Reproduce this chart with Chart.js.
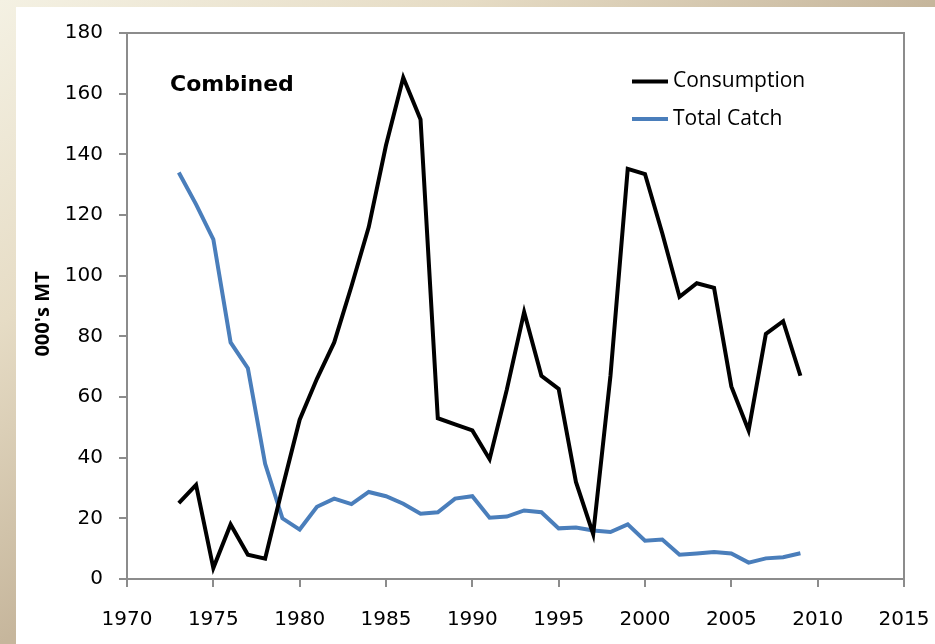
<!DOCTYPE html>
<html>
<head>
<meta charset="utf-8">
<script src="https://cdn.jsdelivr.net/npm/chart.js@4.4.0/dist/chart.umd.min.js"></script>
<style>
  html, body { margin: 0; padding: 0; }
  body {
    width: 935px; height: 644px; overflow: hidden; position: relative;
    background: linear-gradient(to bottom right, #f4f1e3 0%, #e6dcc5 25%, #c6b69c 50%, #c2b297 100%);
  }
  #wrap { position: absolute; left: 16px; top: 7px; width: 919px; height: 637px; background: #ffffff; }
</style>
</head>
<body>
<div id="wrap"><canvas id="c"></canvas></div>
<script>
const years = [1973,1974,1975,1976,1977,1978,1979,1980,1981,1982,1983,1984,1985,1986,1987,1988,1989,1990,1991,1992,1993,1994,1995,1996,1997,1998,1999,2000,2001,2002,2003,2004,2005,2006,2007,2008,2009];
const consumption = [25,31,3.6,18,8,6.7,30,52.5,66,78,96.5,116,143,165.3,151.5,53,51,49,39.5,62.5,88,67,62.7,32,14.8,67,135.2,133.5,114,93,97.5,96,63.5,49,80.8,85,67];
const totalCatch = [134,123.5,112,78,69.5,38,20,16.3,23.8,26.5,24.7,28.7,27.3,24.8,21.5,22,26.5,27.3,20.2,20.6,22.6,22,16.7,17,16,15.5,18,12.6,13,8,8.4,8.9,8.4,5.4,6.8,7.2,8.5];
const xTicks = [1970,1975,1980,1985,1990,1995,2000,2005,2010,2015];
const yTicks = [0,20,40,60,80,100,120,140,160,180];
const seriesLabels = ['Consumption','Total Catch'];
const seriesColors = ['#000000','#4a7ebb'];
const panelTitle = 'Combined';
const yTitle = "000's MT";

const axisGray = '#8c8c8c';

const decor = {
  id: 'decor',
  afterDraw(chart) {
    const ctx = chart.ctx;
    const a = chart.chartArea;
    ctx.save();
    ctx.strokeStyle = axisGray;
    ctx.lineWidth = 2;
    ctx.beginPath();
    ctx.moveTo(a.left, a.top);
    ctx.lineTo(a.right, a.top);
    ctx.lineTo(a.right, a.bottom);
    ctx.stroke();
    ctx.fillStyle = '#000';
    ctx.font = 'bold 22px "DejaVu Sans"';
    ctx.textBaseline = 'alphabetic';
    ctx.textAlign = 'left';
    ctx.fillText(panelTitle, 154, 84);
    const ds = chart.data.datasets;
    const rows = [74.5, 112];
    ctx.font = '21px "Open Sans"';
    ds.forEach((d, i) => {
      ctx.strokeStyle = d.borderColor;
      ctx.lineWidth = 4;
      ctx.beginPath();
      ctx.moveTo(616, rows[i]);
      ctx.lineTo(652, rows[i]);
      ctx.stroke();
      ctx.fillStyle = '#000';
      ctx.textBaseline = 'middle';
      ctx.fillText(d.label, 657, rows[i]);
    });
    ctx.translate(27, 307);
    ctx.rotate(-Math.PI / 2);
    ctx.font = 'bold 20px "Open Sans"';
    ctx.textAlign = 'center';
    ctx.textBaseline = 'middle';
    ctx.fillText(yTitle, 0, 0);
    ctx.restore();
  }
};

new Chart(document.getElementById('c'), {
  type: 'line',
  data: {
    datasets: [
      { label: seriesLabels[0], data: years.map((y, i) => ({x: y, y: consumption[i]})),
        borderColor: seriesColors[0], backgroundColor: seriesColors[0], borderWidth: 4, pointRadius: 0, tension: 0, fill: false },
      { label: seriesLabels[1], data: years.map((y, i) => ({x: y, y: totalCatch[i]})),
        borderColor: seriesColors[1], backgroundColor: seriesColors[1], borderWidth: 4, pointRadius: 0, tension: 0, fill: false }
    ]
  },
  options: {
    responsive: true,
    maintainAspectRatio: false,
    devicePixelRatio: 1,
    animation: false,
    events: [],
    layout: { padding: { top: 26, right: 31, left: 0, bottom: 0 } },
    plugins: { legend: { display: false }, title: { display: false }, tooltip: { enabled: false } },
    scales: {
      x: {
        type: 'linear', min: xTicks[0], max: xTicks[xTicks.length - 1],
        afterBuildTicks(s) { s.ticks = xTicks.map(v => ({ value: v })); },
        afterFit(s) { s.height = 65; s.paddingLeft = 0; s.paddingRight = 0; },
        ticks: { color: '#000', font: { family: 'DejaVu Sans', size: 20 }, padding: 21, maxRotation: 0, autoSkip: false,
          callback: v => String(v) },
        grid: { drawOnChartArea: false, drawTicks: true, tickLength: 8, color: axisGray, tickColor: axisGray, lineWidth: 2 },
        border: { color: axisGray, width: 2 }
      },
      y: {
        type: 'linear', min: yTicks[0], max: yTicks[yTicks.length - 1],
        afterBuildTicks(s) { s.ticks = yTicks.map(v => ({ value: v })); },
        afterFit(s) { s.width = 111; s.paddingTop = 0; s.paddingBottom = 0; },
        ticks: { color: '#000', font: { family: 'DejaVu Sans', size: 20 }, padding: 16, autoSkip: false,
          callback: v => String(v) },
        grid: { drawOnChartArea: false, drawTicks: true, tickLength: 8, color: axisGray, tickColor: axisGray, lineWidth: 2 },
        border: { color: axisGray, width: 2 }
      }
    }
  },
  plugins: [decor]
});
</script>
</body>
</html>
